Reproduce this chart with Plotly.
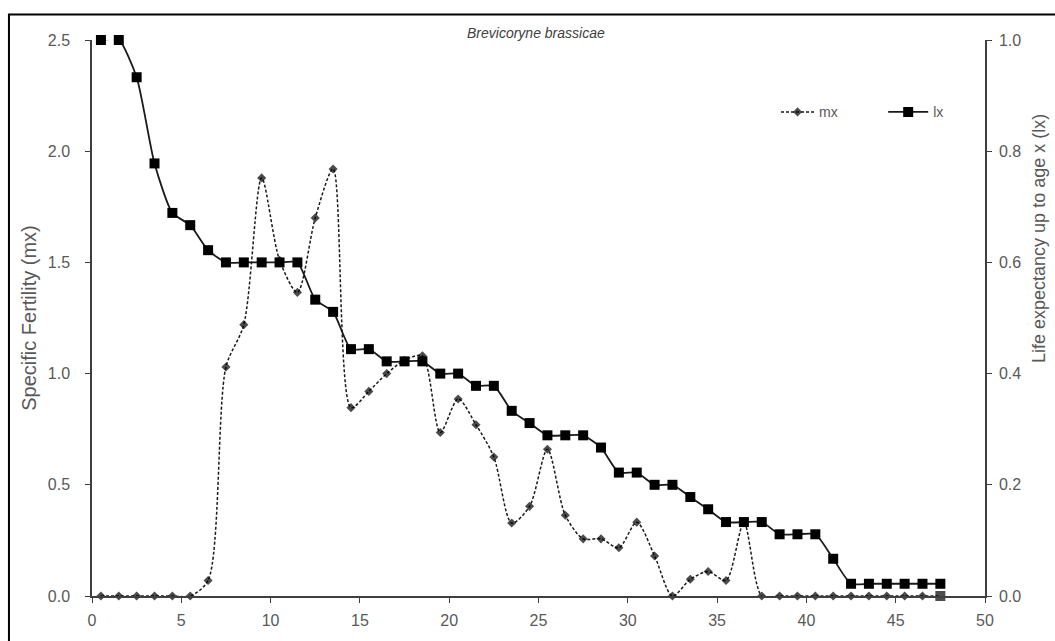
import plotly.graph_objects as go

age = [0.5, 1.5, 2.5, 3.5, 4.5, 5.5, 6.5, 7.5, 8.5, 9.5, 10.5, 11.5, 12.5, 13.5, 14.5, 15.5,
       16.5, 17.5, 18.5, 19.5, 20.5, 21.5, 22.5, 23.5, 24.5, 25.5, 26.5, 27.5, 28.5, 29.5, 30.5, 31.5,
       32.5, 33.5, 34.5, 35.5, 36.5, 37.5, 38.5, 39.5, 40.5, 41.5, 42.5, 43.5, 44.5, 45.5, 46.5, 47.5]

mx = [0, 0, 0, 0, 0, 0, 0.07, 1.03, 1.22, 1.88, 1.51, 1.365, 1.70, 1.92, 0.847, 0.92,
      1.0, 1.06, 1.08, 0.735, 0.886, 0.77, 0.625, 0.328, 0.403, 0.66, 0.363, 0.257, 0.257, 0.217, 0.332, 0.18,
      0, 0.075, 0.11, 0.07, 0.33, 0, 0, 0, 0, 0, 0, 0, 0, 0, 0, 0]

lx = [1.0, 1.0, 0.933, 0.778, 0.689, 0.667, 0.622, 0.6, 0.6, 0.6, 0.6, 0.6, 0.533, 0.511, 0.444, 0.444,
      0.422, 0.422, 0.422, 0.4, 0.4, 0.378, 0.378, 0.333, 0.311, 0.289, 0.289, 0.289, 0.267, 0.222, 0.222, 0.2,
      0.2, 0.178, 0.156, 0.133, 0.133, 0.133, 0.111, 0.111, 0.111, 0.067, 0.022, 0.022, 0.022, 0.022, 0.022, 0.022]

title_text = "Brevicoryne brassicae"
left_title = "Specific Fertility (mx)"
right_title = "Life expectancy up to age x (lx)"
x_ticks = [0, 5, 10, 15, 20, 25, 30, 35, 40, 45, 50]
y_ticks = [0, 0.5, 1.0, 1.5, 2.0, 2.5]
y2_ticks = [0, 0.2, 0.4, 0.6, 0.8, 1.0]

FONT = "Liberation Sans, Arial, sans-serif"
GRAY = "#595959"
AXIS = "#3f3f3f"

mx_symbols = ["diamond"] * (len(age) - 1) + ["square"]
mx_sizes = [7] * (len(age) - 1) + [10]

fig = go.Figure()
fig.add_trace(go.Scatter(
    x=age, y=mx, name="mx", mode="lines+markers", legend="legend", cliponaxis=False,
    line=dict(color="#1a1a1a", width=1.5, dash="3px,2px", shape="spline", smoothing=0.8),
    marker=dict(symbol=mx_symbols, size=mx_sizes, color="black", line=dict(width=0)),
    yaxis="y",
))
fig.add_trace(go.Scatter(
    x=age, y=lx, name="lx", mode="lines+markers", legend="legend2", cliponaxis=False,
    line=dict(color="#1a1a1a", width=1.8, shape="spline", smoothing=0.6),
    marker=dict(symbol="square", size=10, color="black", line=dict(width=0)),
    yaxis="y2",
))

axis_common = dict(showgrid=False, zeroline=False, showline=True, linecolor=AXIS, linewidth=1.5,
                   ticks="outside", ticklen=5, tickcolor=AXIS, tickfont=dict(size=16, color=GRAY))

fig.update_layout(
    width=1055, height=641,
    margin=dict(l=92, r=70, t=40, b=37),
    paper_bgcolor="white", plot_bgcolor="white",
    font=dict(family=FONT, size=14, color=GRAY),
    showlegend=True,
    legend=dict(x=0.766, y=0.87, xanchor="left", yanchor="middle",
                font=dict(size=14, color=GRAY), bgcolor="rgba(0,0,0,0)", itemwidth=33),
    legend2=dict(x=0.886, y=0.87, xanchor="left", yanchor="middle",
                 font=dict(size=14, color=GRAY), bgcolor="rgba(0,0,0,0)", itemwidth=40),
    xaxis=dict(range=[0, 50], tickvals=x_ticks, ticklabelstandoff=4, **axis_common),
    yaxis=dict(range=[0, 2.5], tickvals=y_ticks, tickformat=".1f", ticklabelstandoff=12,
               title=dict(text=left_title, font=dict(size=20, color=GRAY), standoff=6),
               **axis_common),
    yaxis2=dict(range=[0, 1.0], tickvals=y2_ticks, tickformat=".1f",
                overlaying="y", side="right", ticklabelstandoff=4,
                **axis_common),
    annotations=[
        dict(text="<i>" + title_text + "</i>", x=0.497, y=1.012, xref="paper", yref="paper",
             xanchor="center", yanchor="middle", showarrow=False,
             font=dict(size=14, color="#404040")),
        dict(text=right_title, x=1.061, y=0.643, xref="paper", yref="paper", textangle=-90,
             xanchor="center", yanchor="middle", showarrow=False,
             font=dict(size=18, color=GRAY)),
    ],
    shapes=[dict(type="rect", xref="paper", yref="paper", x0=-0.093, x1=1.2, y0=-0.2, y1=1.046,
                 line=dict(color="black", width=2), layer="below")],
)

fig.write_html("out.html", config={"displayModeBar": False},
               post_script="document.documentElement.style.margin='0';document.body.style.margin='0';"
                           "document.body.style.overflow='hidden';")
